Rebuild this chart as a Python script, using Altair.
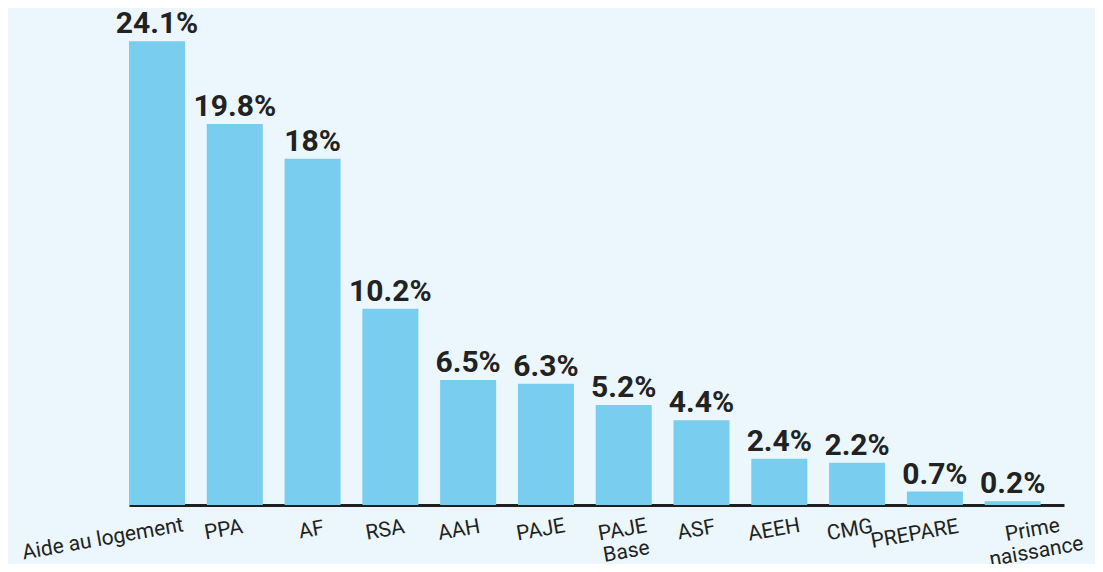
import altair as alt
import pandas as pd

categories = ["Aide au logement", "PPA", "AF", "RSA", "AAH", "PAJE",
              "PAJE|Base", "ASF", "AEEH", "CMG", "PREPARE", "Prime|naissance"]
values = [24.1, 19.8, 18.0, 10.2, 6.5, 6.3, 5.2, 4.4, 2.4, 2.2, 0.7, 0.2]
labels = ["24.1%", "19.8%", "18%", "10.2%", "6.5%", "6.3%", "5.2%", "4.4%",
          "2.4%", "2.2%", "0.7%", "0.2%"]

df = pd.DataFrame({"cat": categories, "val": values, "lab": labels})

label_offset = {
    "condition": [
        {"test": "datum.value == 'Aide au logement'", "value": -56},
        {"test": "datum.value == 'PREPARE'", "value": -22},
        {"test": "datum.value == 'Prime|naissance'", "value": 18},
        {"test": "datum.value == 'PPA'", "value": -13},
        {"test": "datum.value == 'AAH'", "value": -11},
        {"test": "datum.value == 'CMG'", "value": -9},
        {"test": "datum.value == 'AF' || datum.value == 'PAJE|Base'", "value": -3},
    ],
    "value": -7,
}
label_padding = {
    "condition": [
        {"test": "datum.value == 'Aide au logement'", "value": 23},
        {"test": "datum.value == 'PREPARE'", "value": 18},
    ],
    "value": 14,
}

x = alt.X("cat:N", sort=categories, title=None,
          scale=alt.Scale(paddingInner=0.28, paddingOuter=0.15, align=0),
          axis=alt.Axis(labelAngle=350, labelAlign="center", labelBaseline="top",
                        labelPadding=label_padding, labelOffset=label_offset,
                        labelFontSize=21, labelFont="Roboto", labelColor="#222222",
                        labelExpr="split(datum.label, '|')", labelLineHeight=22,
                        ticks=False, domainColor="#1f1f1f", domainWidth=3,
                        grid=False, labelOverlap=False))
y = alt.Y("val:Q", title=None, scale=alt.Scale(domain=[0, 25], nice=False),
          axis=None)

bars = alt.Chart(df).mark_bar(color="#79cdef").encode(x=x, y=y)
text = alt.Chart(df).mark_text(font="Roboto", fontWeight="bold", fontSize=30,
                               color="#222222", baseline="alphabetic", dy=-8).encode(
    x=x, y=y, text="lab:N")

chart = (bars + text).properties(
    width=935, height=481,
    autosize=alt.AutoSizeParams(type="none"),
    padding={"left": 121, "top": 16, "right": 31, "bottom": 59},
    background="#ebf7fc",
).configure_view(stroke=None)

chart.save("out.html", embed_options={"renderer": "svg", "actions": False})
